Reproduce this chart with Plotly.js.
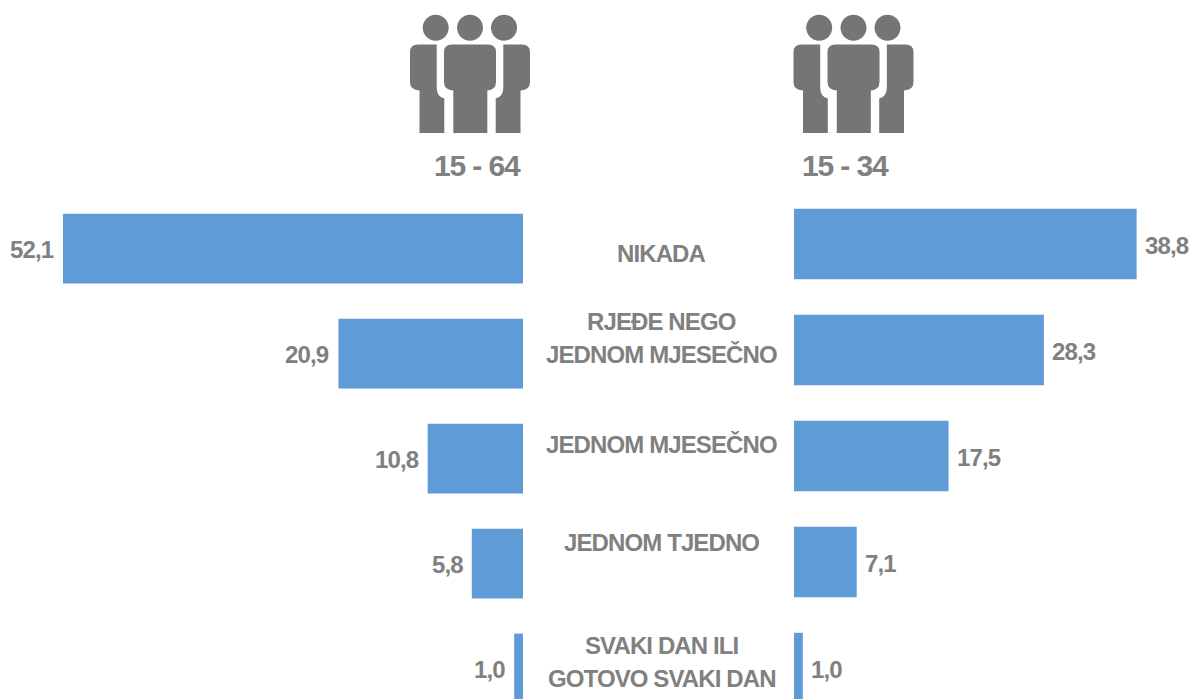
<!DOCTYPE html>
<html><head><meta charset="utf-8">
<script src="https://cdn.plot.ly/plotly-3.0.1.min.js"></script>
<style>html,body{margin:0;padding:0;background:#fff;overflow:hidden}#c{width:1192px;height:699px}
svg text{letter-spacing:-0.037em}</style>
</head><body><div id="c"></div>
<script>
const categories = ['NIKADA','RJEĐE NEGO<br>JEDNOM MJESEČNO','JEDNOM MJESEČNO','JEDNOM TJEDNO','SVAKI DAN ILI<br>GOTOVO SVAKI DAN'];
const values1564 = [52.1,20.9,10.8,5.8,1.0];
const values1534 = [38.8,28.3,17.5,7.1,1.0];
const groupLabels = ['15 - 64','15 - 34'];

const W=1192,H=699;
const BAR='#5F9BD6', GREY='#808080', ICON='#757575';
const FONT='"Liberation Sans",Arial,sans-serif';
const px=x=>(x/W).toFixed(5), py=y=>(1-y/H).toFixed(5);
const bold=t=>'<b>'+t+'</b>';

function iconPaths(ox){
  const P=(x,y)=>px(ox+x)+','+py(y);
  const circle=(cx,cy,r)=>{const k=r*0.5523;
    return 'M'+P(cx-r,cy)+'C'+P(cx-r,cy-k)+' '+P(cx-k,cy-r)+' '+P(cx,cy-r)+'C'+P(cx+k,cy-r)+' '+P(cx+r,cy-k)+' '+P(cx+r,cy)+'C'+P(cx+r,cy+k)+' '+P(cx+k,cy+r)+' '+P(cx,cy+r)+'C'+P(cx-k,cy+r)+' '+P(cx-r,cy+k)+' '+P(cx-r,cy)+'Z';};
  const center='M'+P(34,52)+'Q'+P(34,44.5)+' '+P(42,44.5)+'L'+P(78,44.5)+'Q'+P(86,44.5)+' '+P(86,52)+'L'+P(86,82)+'Q'+P(86,90)+' '+P(77.3,90.5)+'L'+P(77.3,133)+'L'+P(43.3,133)+'L'+P(43.3,90.5)+'Q'+P(34,90)+' '+P(34,82)+'Z';
  const left='M'+P(0,52)+'Q'+P(0,44.5)+' '+P(8,44.5)+'L'+P(26.7,44.5)+'L'+P(26.7,88)+'Q'+P(27,97)+' '+P(34.3,98.5)+'L'+P(34.3,133)+'L'+P(9.5,133)+'L'+P(9.5,90.5)+'Q'+P(0,90)+' '+P(0,82)+'Z';
  const right='M'+P(120,52)+'Q'+P(120,44.5)+' '+P(112,44.5)+'L'+P(93.3,44.5)+'L'+P(93.3,88)+'Q'+P(93,97)+' '+P(85.7,98.5)+'L'+P(85.7,133)+'L'+P(110.5,133)+'L'+P(110.5,90.5)+'Q'+P(120,90)+' '+P(120,82)+'Z';
  return [circle(25.7,27.7,13),circle(60,27.7,13),circle(94,27.7,13),center,left,right].map(path=>({
    type:'path',xref:'paper',yref:'paper',path,fillcolor:ICON,line:{width:0}}));
}

const catY=[253,337.5,445,543,662];
const LINE=33;
const annotations=[];
categories.forEach((c,i)=>{
  const lines=c.split('<br>');
  lines.forEach((t,k)=>{
    annotations.push({xref:'paper',yref:'paper',x:px(661.5),y:py(catY[i]+(k-(lines.length-1)/2)*LINE),text:bold(t),showarrow:false,xanchor:'center',yanchor:'middle',
      font:{family:FONT,size:24,color:GREY}});
  });
  annotations.push({xref:'x',yref:'y',x:values1564[i],y:c,text:bold(values1564[i].toFixed(1).replace('.',',')),showarrow:false,xanchor:'right',yanchor:'middle',xshift:-7,yshift:-1,
    font:{family:FONT,size:24,color:GREY}});
  annotations.push({xref:'x2',yref:'y2',x:values1534[i],y:c,text:bold(values1534[i].toFixed(1).replace('.',',')),showarrow:false,xanchor:'left',yanchor:'middle',xshift:6,yshift:-1,
    font:{family:FONT,size:24,color:GREY}});
});
annotations.push({xref:'paper',yref:'paper',x:px(477.5),y:py(166),text:bold(groupLabels[0]),showarrow:false,xanchor:'center',yanchor:'middle',font:{family:FONT,size:30,color:GREY}});
annotations.push({xref:'paper',yref:'paper',x:px(846),y:py(166),text:bold(groupLabels[1]),showarrow:false,xanchor:'center',yanchor:'middle',font:{family:FONT,size:30,color:GREY}});

const traces=[
 {type:'bar',orientation:'h',x:values1564,y:categories,xaxis:'x',yaxis:'y',width:0.665,marker:{color:BAR,line:{width:0}},hoverinfo:'x+y'},
 {type:'bar',orientation:'h',x:values1534,y:categories,xaxis:'x2',yaxis:'y2',width:0.665,marker:{color:BAR,line:{width:0}},hoverinfo:'x+y'}
];
const hidden={showgrid:false,zeroline:false,showticklabels:false,ticks:'',showline:false,fixedrange:true};
const layout={
  width:W,height:H,margin:{l:0,r:0,t:0,b:0},paper_bgcolor:'#fff',plot_bgcolor:'#fff',showlegend:false,
  font:{family:FONT,color:GREY},
  xaxis:Object.assign({},hidden,{domain:[0,523/W],range:[59.23,0],anchor:'y'}),
  yaxis:Object.assign({},hidden,{domain:[0,1],type:'category',categoryorder:'array',categoryarray:categories,range:[4.29,-2.367],anchor:'x'}),
  xaxis2:Object.assign({},hidden,{domain:[794/W,1],range:[0,45.07],anchor:'y2'}),
  yaxis2:Object.assign({},hidden,{domain:[0,1],type:'category',categoryorder:'array',categoryarray:categories,range:[4.292,-2.302],anchor:'x2'}),
  shapes:[...iconPaths(410),...iconPaths(793.5)],
  annotations
};
Plotly.newPlot('c',traces,layout,{displayModeBar:false,staticPlot:true});
</script></body></html>
